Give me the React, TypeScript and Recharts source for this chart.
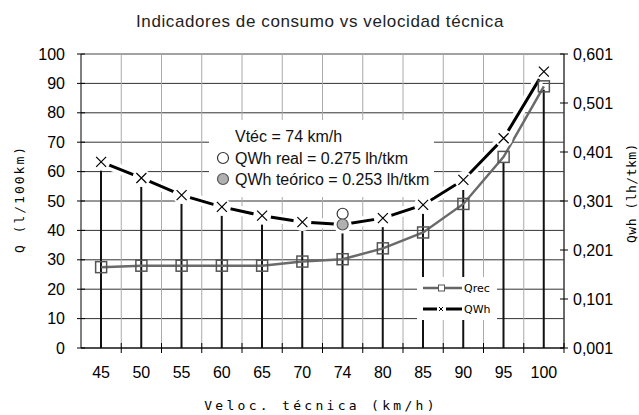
import React from 'react';
import { ComposedChart, Line, Bar, XAxis, YAxis, CartesianGrid, ReferenceLine, Legend } from 'recharts';

const velocidades = ['45', '50', '55', '60', '65', '70', '74', '80', '85', '90', '95', '100'];
const qrec = [27.5, 28, 28, 28, 28, 29.4, 30.2, 33.9, 39.3, 49, 65, 89];
const qwh = [0.381, 0.348, 0.313, 0.289, 0.271, 0.258, 0.253, 0.266, 0.293, 0.344, 0.429, 0.565];
// vertical black drop lines, height read on the left axis
const dropLines = [61.7, 54.9, 49.8, 45.2, 43, 40.8, 39.5, 41.8, 46, 53.7, 63.3, 87.8];
const vtec = '74';
const qwhReal = 0.275;
const qwhTeorico = 0.253;
const qTicks = [0, 10, 20, 30, 40, 50, 60, 70, 80, 90, 100];
const qwhTicks = [0.001, 0.101, 0.201, 0.301, 0.401, 0.501, 0.601];
const legendNames = ['Qrec', 'QWh'];

const data = velocidades.map((v, i) => ({
  v,
  qrec: qrec[i],
  qwh: qwh[i],
  drop: dropLines[i],
  real: v === vtec ? qwhReal : null,
  teorico: v === vtec ? qwhTeorico : null,
}));

const W = 639;
const H = 415;
const LEFT_W = 81;
const RIGHT_W = 75;
const HALF_BAND = (W - LEFT_W - RIGHT_W) / velocidades.length / 2;

const FONT = '"Liberation Sans", Arial, sans-serif';
const MONO = '"DejaVu Sans Mono", monospace';

const QTick = (props: any) => {
  const { x, y, payload } = props;
  return (
    <g>
      <line x1={x - 4} x2={x + 4} y1={y} y2={y} stroke="#000" />
      <text x={x - 16} y={y + 5.5} textAnchor="end" fontSize={16} fontFamily={FONT} fill="#000">
        {payload.value}
      </text>
    </g>
  );
};

const QwhTick = (props: any) => {
  const { x, y, payload } = props;
  return (
    <g>
      <line x1={x - 4} x2={x + 4} y1={y} y2={y} stroke="#000" />
      <text x={x + 9} y={y + 5.5} textAnchor="start" fontSize={16} fontFamily={FONT} fill="#000">
        {Number(payload.value).toFixed(3).replace('.', ',')}
      </text>
    </g>
  );
};

const VelTick = (props: any) => {
  const { x, y, payload } = props;
  return (
    <g>
      <line x1={x + HALF_BAND} x2={x + HALF_BAND} y1={y - 5} y2={y + 5} stroke="#000" />
      <text x={x} y={y + 30} textAnchor="middle" fontSize={16} fontFamily={FONT} fill="#000">
        {payload.value}
      </text>
    </g>
  );
};

const qwhDot = (p: any) => {
  const { cx, cy, index, payload } = p;
  if (cx == null || cy == null) return <g key={`x-${index}`} />;
  return (
    <g key={`x-${index}`}>
      <circle cx={cx} cy={cy} r={9} fill="#fff" />
      {payload.v !== vtec && (
        <path
          d={`M${cx - 5},${cy - 5}L${cx + 5},${cy + 5}M${cx + 5},${cy - 5}L${cx - 5},${cy + 5}`}
          stroke="#000"
          strokeWidth={1.2}
          fill="none"
        />
      )}
    </g>
  );
};

const qrecDot = (p: any) => {
  const { cx, cy, index } = p;
  if (cx == null || cy == null) return <g key={`sq-${index}`} />;
  return <rect key={`sq-${index}`} x={cx - 5.5} y={cy - 5.5} width={11} height={11} fill="none" stroke="#555" strokeWidth={1.5} />;
};

const renderLegend = (props: any) => {
  const items = legendNames
    .map((n) => (props.payload || []).find((e: any) => e.value === n))
    .filter(Boolean);
  return (
    <div style={{ width: 80, height: 43, background: '#fff' }}>
      <svg width={80} height={43} style={{ overflow: 'visible' }}>
        {items.map((e: any, i: number) => {
          const y = 11 + i * 21;
          return (
            <g key={e.value}>
              {e.value === 'Qrec' ? (
                <>
                  <line x1={6} x2={45} y1={y} y2={y} stroke="#666" strokeWidth={2.5} />
                  <rect x={21.5} y={y - 3} width={6} height={6} fill="#fff" stroke="#555" />
                </>
              ) : (
                <>
                  <line x1={6} x2={20} y1={y} y2={y} stroke="#000" strokeWidth={3} />
                  <line x1={29} x2={45} y1={y} y2={y} stroke="#000" strokeWidth={3} />
                  <path d={`M22,${y - 2}L26,${y + 2}M26,${y - 2}L22,${y + 2}`} stroke="#000" strokeWidth={1} />
                </>
              )}
              <text x={47} y={y + 4} fontSize={11} fontFamily='"DejaVu Sans", sans-serif' fill="#000">
                {e.value}
              </text>
            </g>
          );
        })}
      </svg>
    </div>
  );
};

export default function App() {
  return (
    <div style={{ position: 'absolute', left: 0, top: 0, width: W, height: H, background: '#fff' }}>
      <ComposedChart width={W} height={H} data={data} margin={{ top: 54, right: 0, bottom: 0, left: 0 }}>
        <CartesianGrid vertical={false} stroke="#333" />
        {velocidades.map((v) => (
          <ReferenceLine key={`b-${v}`} x={v} position="end" stroke="#aaa" />
        ))}
        <ReferenceLine y={100} stroke="#aaa" />
        <XAxis
          dataKey="v"
          type="category"
          height={67}
          axisLine={{ stroke: '#000' }}
          tickLine={false}
          tickSize={0}
          tickMargin={0}
          interval={0}
          tick={<VelTick />}
        />
        <YAxis
          width={LEFT_W}
          domain={[0, 100]}
          ticks={qTicks}
          allowDataOverflow
          axisLine={{ stroke: '#000' }}
          tickLine={false}
          tickSize={0}
          tickMargin={0}
          interval={0}
          tick={<QTick />}
        />
        <YAxis
          yAxisId="right"
          orientation="right"
          width={RIGHT_W}
          domain={[0.001, 0.601]}
          ticks={qwhTicks}
          allowDataOverflow
          axisLine={{ stroke: '#000' }}
          tickLine={false}
          tickSize={0}
          tickMargin={0}
          interval={0}
          tick={<QwhTick />}
        />
        <Line
          yAxisId="right"
          dataKey="qwh"
          name="halo"
          stroke="#fff"
          strokeWidth={10}
          dot={false}
          activeDot={false}
          legendType="none"
          isAnimationActive={false}
        />
        <Line
          yAxisId="right"
          dataKey="qwh"
          name="QWh"
          stroke="#000"
          strokeWidth={3}
          dot={false}
          activeDot={false}
          isAnimationActive={false}
        />
        <Line
          yAxisId="right"
          dataKey="qwh"
          name="markers"
          stroke="none"
          dot={qwhDot}
          activeDot={false}
          legendType="none"
          isAnimationActive={false}
        />
        <Bar dataKey="drop" barSize={2} fill="#111" legendType="none" isAnimationActive={false} />
        <Line
          dataKey="qrec"
          name="Qrec"
          stroke="#6a6a6a"
          strokeWidth={2.5}
          dot={qrecDot}
          activeDot={false}
          isAnimationActive={false}
        />
        <Line
          yAxisId="right"
          dataKey="real"
          stroke="none"
          dot={{ r: 5.5, fill: '#fff', stroke: '#333', strokeWidth: 1.2 }}
          activeDot={false}
          legendType="none"
          isAnimationActive={false}
        />
        <Line
          yAxisId="right"
          dataKey="teorico"
          stroke="none"
          dot={{ r: 5.5, fill: '#b0b0b0', stroke: '#555', strokeWidth: 1.2 }}
          activeDot={false}
          legendType="none"
          isAnimationActive={false}
        />
        <Legend
          layout="vertical"
          align="center"
          verticalAlign="middle"
          content={renderLegend}
          wrapperStyle={{ left: 417, top: 277, width: 80, height: 43 }}
        />
      </ComposedChart>
      <svg width={W} height={H} style={{ position: 'absolute', left: 0, top: 0, pointerEvents: 'none' }}>
        <text x={320} y={27} textAnchor="middle" fontSize={17} letterSpacing={0.6} fontFamily={FONT} fill="#222">
          Indicadores de consumo vs velocidad técnica
        </text>
        <text
          x={23.5}
          y={199}
          transform="rotate(-90, 23.5, 199)"
          textAnchor="middle"
          fontSize={13}
          letterSpacing={2}
          fontFamily={MONO}
          fill="#000"
        >
          Q (l/100km)
        </text>
        <text
          x={635.5}
          y={193}
          transform="rotate(-90, 635.5, 193)"
          textAnchor="middle"
          fontSize={13}
          letterSpacing={0.5}
          fontFamily={MONO}
          fill="#000"
        >
          Qwh (lh/tkm)
        </text>
        <text x={321} y={409.5} textAnchor="middle" fontSize={13} letterSpacing={3.3} fontFamily={MONO} fill="#000">
          Veloc. técnica (km/h)
        </text>
        <rect x={209} y={120} width={225} height={77} fill="#fff" />
        <text x={235} y={141.5} fontSize={16} fontFamily={FONT} fill="#111">
          Vtéc = {vtec} km/h
        </text>
        <circle cx={223} cy={158} r={5.5} fill="#fff" stroke="#333" strokeWidth={1.2} />
        <text x={235} y={163.5} fontSize={16} fontFamily={FONT} fill="#111">
          QWh real = {qwhReal} lh/tkm
        </text>
        <circle cx={223} cy={179} r={5.5} fill="#b0b0b0" stroke="#555" strokeWidth={1.2} />
        <text x={235} y={184.5} fontSize={16} fontFamily={FONT} fill="#111">
          QWh teórico = {qwhTeorico} lh/tkm
        </text>
      </svg>
    </div>
  );
}
